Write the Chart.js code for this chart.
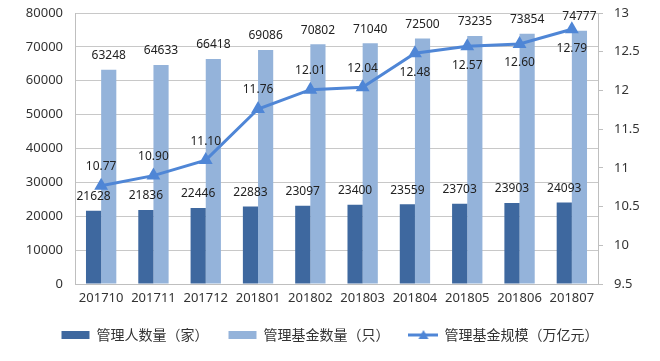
<!DOCTYPE html>
<html>
<head>
<meta charset="utf-8">
<script src="https://cdn.jsdelivr.net/npm/chart.js@4/dist/chart.umd.min.js"></script>
<style>
  body { margin: 0; background: #fff; }
  #wrap { width: 660px; height: 361px; }
</style>
</head>
<body>
<div id="wrap"><canvas id="myChart"></canvas></div>
<script>
const months = ["201710", "201711", "201712", "201801", "201802", "201803", "201804", "201805", "201806", "201807"];
const managers = [21628, 21836, 22446, 22883, 23097, 23400, 23559, 23703, 23903, 24093];
const funds = [63248, 64633, 66418, 69086, 70802, 71040, 72500, 73235, 73854, 74777];
const scale = [10.77, 10.90, 11.10, 11.76, 12.01, 12.04, 12.48, 12.57, 12.60, 12.79];

const font = "'Noto Sans', sans-serif";
const cjkFont = "'Noto Sans CJK SC', sans-serif";
const lineColor = "#4F86D6";

// little line + triangle picture for the legend
const lineIcon = document.createElement("canvas");
lineIcon.width = 30;
lineIcon.height = 12;
(() => {
  const c = lineIcon.getContext("2d");
  c.strokeStyle = lineColor;
  c.lineWidth = 3;
  c.beginPath();
  c.moveTo(0, 6);
  c.lineTo(30, 6);
  c.stroke();
  c.fillStyle = lineColor;
  c.beginPath();
  c.moveTo(15, 1);
  c.lineTo(20, 10);
  c.lineTo(10, 10);
  c.closePath();
  c.fill();
})();

// draws the value labels like the excel chart does
const valueLabels = {
  id: "valueLabels",
  afterDatasetsDraw(chart) {
    const ctx = chart.ctx;
    ctx.save();
    ctx.font = "12px " + font;
    ctx.fillStyle = "#222";
    ctx.textAlign = "center";
    ctx.textBaseline = "middle";
    chart.data.datasets.forEach((ds, i) => {
      const meta = chart.getDatasetMeta(i);
      meta.data.forEach((el, j) => {
        if (ds.type === "line") {
          const below = j >= 6;
          const txt = ds.data[j].toFixed(2);
          ctx.fillText(txt, el.x, below ? el.y + 19 : el.y - 19);
        } else {
          ctx.fillText(ds.data[j], el.x, el.y - 14);
        }
      });
    });
    ctx.restore();
  }
};

const noPad = (s) => {
  s.paddingTop = 0;
  s.paddingBottom = 0;
};

new Chart("myChart", {
  type: "bar",
  data: {
    labels: months,
    datasets: [
      {
        type: "line",
        label: "管理基金规模（万亿元）",
        data: scale,
        yAxisID: "y1",
        borderColor: lineColor,
        backgroundColor: lineColor,
        borderWidth: 3,
        pointStyle: "triangle",
        pointRadius: 5,
        tension: 0,
        order: 0
      },
      {
        label: "管理人数量（家）",
        data: managers,
        backgroundColor: "#3E689F",
        yAxisID: "y",
        categoryPercentage: 0.58,
        barPercentage: 1.0,
        order: 1
      },
      {
        label: "管理基金数量（只）",
        data: funds,
        backgroundColor: "#94B3DA",
        yAxisID: "y",
        categoryPercentage: 0.58,
        barPercentage: 1.0,
        order: 1
      }
    ]
  },
  options: {
    responsive: true,
    maintainAspectRatio: false,
    animation: false,
    layout: { padding: { top: 13, left: 0, right: 0, bottom: 9 } },
    plugins: {
      tooltip: { enabled: false },
      legend: {
        position: "bottom",
        labels: {
          font: { size: 14, family: cjkFont },
          color: "#333",
          usePointStyle: true,
          pointStyleWidth: 28,
          boxHeight: 8,
          padding: 20,
          sort: (a, b) => {
            const o = [1, 2, 0];
            return o.indexOf(a.datasetIndex) - o.indexOf(b.datasetIndex);
          },
          generateLabels(chart) {
            const items = Chart.defaults.plugins.legend.labels.generateLabels(chart);
            items.forEach((it) => {
              it.lineWidth = 0;
              it.pointStyle = it.datasetIndex === 0 ? lineIcon : "rect";
            });
            return items;
          }
        }
      }
    },
    scales: {
      x: {
        grid: { display: false, drawTicks: false },
        border: { color: "#BFBFBF" },
        ticks: { font: { size: 13, family: font }, color: "#333", padding: 6 },
        afterFit: (s) => { s.height = 24; }
      },
      y: {
        position: "left",
        min: 0,
        max: 80000,
        ticks: {
          stepSize: 10000,
          font: { size: 13, family: font },
          color: "#333",
          padding: 12,
          callback: (v) => String(v)
        },
        grid: { color: "#C8C8C8", drawTicks: false },
        border: { color: "#BFBFBF" },
        afterFit: (s) => { s.width = 75; noPad(s); }
      },
      y1: {
        position: "right",
        min: 9.5,
        max: 13,
        ticks: {
          stepSize: 0.5,
          font: { size: 13, family: font },
          color: "#333",
          padding: 11,
          callback: (v) => String(v)
        },
        grid: { drawOnChartArea: false, color: "#BFBFBF", tickLength: 5 },
        border: { color: "#BFBFBF" },
        afterFit: (s) => { s.width = 62; noPad(s); }
      }
    }
  },
  plugins: [valueLabels]
});
</script>
</body>
</html>
